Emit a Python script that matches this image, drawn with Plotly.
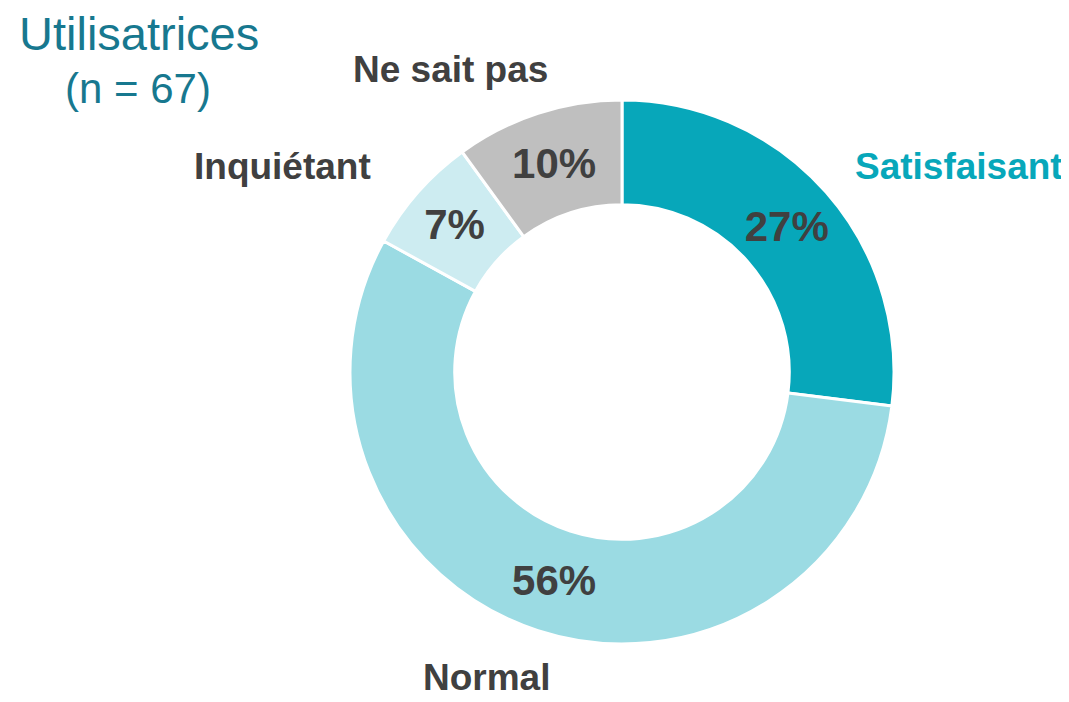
import plotly.graph_objects as go

categories = ["Satisfaisant", "Normal", "Inquiétant", "Ne sait pas"]
percents = [27, 56, 7, 10]
slice_colors = ["#07A7BA", "#9BDBE3", "#CDECF1", "#BFBFBF"]
label_colors = ["#07A7BA", "#404040", "#404040", "#404040"]
title_text = "Utilisatrices"
subtitle_text = "(n = 67)"

W, H = 1069, 702
OFF = 8  # page body margin in the browser


def px(x, y):
    # pixel spot in the picture -> paper coords
    return (x - OFF) / W, 1 - (y - OFF) / H


# label centres, in picture pixels
label_pix = [(959, 167), (486, 677), (282, 167), (450, 70)]

cx, cy, r = 622, 372, 272
x0, y0 = px(cx - r, cy + r)
x1, y1 = px(cx + r, cy - r)

fig = go.Figure(go.Pie(
    labels=categories,
    values=percents,
    sort=False,
    direction="clockwise",
    rotation=0,
    hole=0.615,
    marker=dict(colors=slice_colors, line=dict(color="white", width=3)),
    texttemplate="%{value}%",
    textposition="inside",
    insidetextorientation="horizontal",
    textfont=dict(family="Liberation Sans, Arial", size=42, color="#404040", weight="bold"),
    domain=dict(x=[x0, x1], y=[y0, y1]),
    showlegend=False,
))

for name, col, (lx, ly) in zip(categories, label_colors, label_pix):
    ax, ay = px(lx, ly)
    fig.add_annotation(x=ax, y=ay, xref="paper", yref="paper", text=name, showarrow=False,
                       xanchor="center", yanchor="middle", borderpad=0,
                       font=dict(family="Liberation Sans, Arial", size=37, color=col, weight="bold"))

tx, ty = px(139, 33)
fig.add_annotation(x=tx, y=ty, xref="paper", yref="paper", text=title_text, showarrow=False,
                   xanchor="center", yanchor="middle",
                   font=dict(family="Liberation Sans, Arial", size=47, color="#17788F"))
sx, sy = px(138, 88)
fig.add_annotation(x=sx, y=sy, xref="paper", yref="paper", text=subtitle_text, showarrow=False,
                   xanchor="center", yanchor="middle",
                   font=dict(family="Liberation Sans, Arial", size=42, color="#17788F"))

fig.update_layout(width=W, height=H, margin=dict(l=0, r=0, t=0, b=0),
                  paper_bgcolor="white", plot_bgcolor="white", uniformtext=dict(minsize=30, mode="show"))
fig.write_html("out.html")
